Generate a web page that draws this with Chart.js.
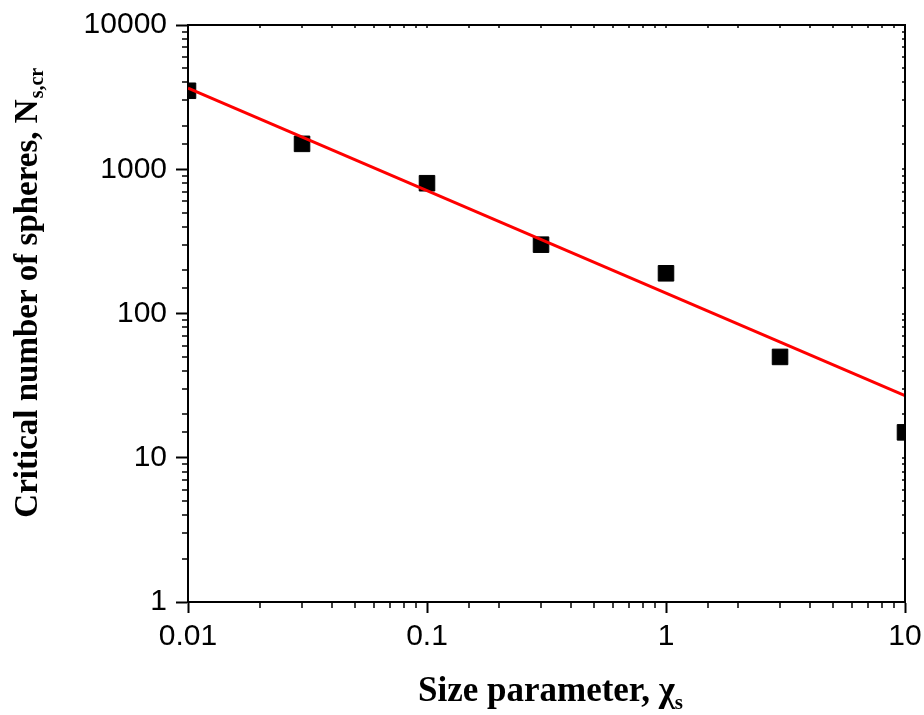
<!DOCTYPE html>
<html>
<head>
<meta charset="utf-8">
<script src="https://cdn.jsdelivr.net/npm/chart.js@4.4.0/dist/chart.umd.min.js"></script>
<style>
  html, body { margin: 0; padding: 0; background: #fff; }
  #wrap { width: 924px; height: 715px; }
</style>
</head>
<body>
<div id="wrap"><canvas id="chart"></canvas></div>
<script>
// data
const sizeParams = [0.01, 0.03, 0.1, 0.3, 1, 3, 10];
const criticalN = [3500, 1500, 800, 300, 190, 50, 15];
const fitX = [0.01, 10];
const fitY = [3650, 27];
const xTickLabels = ["0.01", "0.1", "1", "10"];
const yTickLabels = ["1", "10", "100", "1000", "10000"];

const labelFor = (list, value) => {
  const hit = list.find(s => Math.abs(Number(s) - value) < Number(s) * 1e-6);
  return hit === undefined ? "" : hit;
};
const isMajor = (list, value) => labelFor(list, value) !== "";

// minor ticks outside, small ticks inside on top/right, box frame, titles
const framePlugin = {
  id: "frame",
  afterDraw(chart) {
    const { ctx, chartArea: a, scales } = chart;
    const x = scales.x, y = scales.y;
    ctx.save();
    ctx.strokeStyle = "#000";
    ctx.lineWidth = 2;
    ctx.beginPath();
    ctx.moveTo(a.left, a.top);
    ctx.lineTo(a.right, a.top);
    ctx.lineTo(a.right, a.bottom);
    ctx.stroke();

    ctx.lineWidth = 1.5;
    ctx.beginPath();
    x.ticks.forEach(t => {
      const px = Math.round(x.getPixelForValue(t.value));
      if (!isMajor(xTickLabels, t.value)) {
        ctx.moveTo(px, a.bottom);
        ctx.lineTo(px, a.bottom + 6);
      }
      ctx.moveTo(px, a.top);
      ctx.lineTo(px, a.top + 3);
    });
    y.ticks.forEach(t => {
      const py = Math.round(y.getPixelForValue(t.value));
      if (!isMajor(yTickLabels, t.value)) {
        ctx.moveTo(a.left, py);
        ctx.lineTo(a.left - 6, py);
      }
      ctx.moveTo(a.right, py);
      ctx.lineTo(a.right - 3, py);
    });
    ctx.stroke();

    // axis titles with subscripts
    ctx.fillStyle = "#000";
    ctx.textBaseline = "alphabetic";
    const serif = "'Liberation Serif', 'Times New Roman', serif";

    const xMain = "Size parameter, \u03C7";
    const xSub = "s";
    ctx.font = "bold 35px " + serif;
    const xw1 = ctx.measureText(xMain).width;
    ctx.font = "bold 21px " + serif;
    const xw2 = ctx.measureText(xSub).width;
    const xStart = (a.left + a.right) / 2 + 4 - (xw1 + xw2) / 2;
    ctx.font = "bold 35px " + serif;
    ctx.fillText(xMain, xStart, 701);
    ctx.font = "bold 21px " + serif;
    ctx.fillText(xSub, xStart + xw1, 709);

    const yMain = "Critical number of spheres, N";
    const ySub = "s,cr";
    ctx.translate(37, (a.top + a.bottom) / 2 - 5);
    ctx.rotate(-Math.PI / 2);
    ctx.font = "bold 33px " + serif;
    const yw1 = ctx.measureText(yMain).width;
    ctx.fillText(yMain, -yw1 / 2, 0);
    ctx.font = "bold 20px " + serif;
    ctx.fillText(ySub, yw1 / 2 + 1, 6);
    ctx.restore();
  }
};

const tickFont = { family: "'Liberation Sans', Arial, sans-serif", size: 30 };

new Chart(document.getElementById("chart"), {
  type: "scatter",
  data: {
    datasets: [
      {
        type: "line",
        label: "fit",
        data: fitX.map((v, i) => ({ x: v, y: fitY[i] })),
        borderColor: "#ff0000",
        borderWidth: 3,
        pointRadius: 0,
        fill: false,
        clip: 0,
        order: 0
      },
      {
        label: "Ns,cr",
        data: sizeParams.map((v, i) => ({ x: v, y: criticalN[i] })),
        pointStyle: "rect",
        pointRadius: 11,
        backgroundColor: "#000",
        borderColor: "#000",
        borderWidth: 1,
        clip: 0,
        order: 1
      }
    ]
  },
  options: {
    responsive: true,
    maintainAspectRatio: false,
    animation: false,
    devicePixelRatio: 1,
    layout: { padding: { top: 25, right: 19, left: 0, bottom: 0 } },
    plugins: {
      legend: { display: false },
      tooltip: { enabled: false }
    },
    scales: {
      x: {
        type: "logarithmic",
        min: 0.01,
        max: 10,
        afterFit: s => { s.height = 113; s.paddingLeft = 0; s.paddingRight = 0; },
        border: { display: true, color: "#000", width: 2 },
        grid: {
          drawOnChartArea: false,
          drawTicks: true,
          tickLength: 11,
          tickWidth: 2,
          tickColor: c => isMajor(xTickLabels, c.tick.value) ? "#000" : "rgba(0,0,0,0)"
        },
        ticks: {
          autoSkip: false,
          maxRotation: 0,
          padding: 6,
          color: "#000",
          font: tickFont,
          callback: v => labelFor(xTickLabels, v)
        }
      },
      y: {
        type: "logarithmic",
        min: 1,
        max: 10000,
        afterFit: s => { s.width = 188; s.paddingTop = 0; s.paddingBottom = 0; },
        border: { display: true, color: "#000", width: 2 },
        grid: {
          drawOnChartArea: false,
          drawTicks: true,
          tickLength: 12,
          tickWidth: 2,
          tickColor: c => isMajor(yTickLabels, c.tick.value) ? "#000" : "rgba(0,0,0,0)"
        },
        ticks: {
          autoSkip: false,
          padding: 9,
          color: "#000",
          font: tickFont,
          callback: v => labelFor(yTickLabels, v)
        }
      }
    }
  },
  plugins: [framePlugin]
});
</script>
</body>
</html>
